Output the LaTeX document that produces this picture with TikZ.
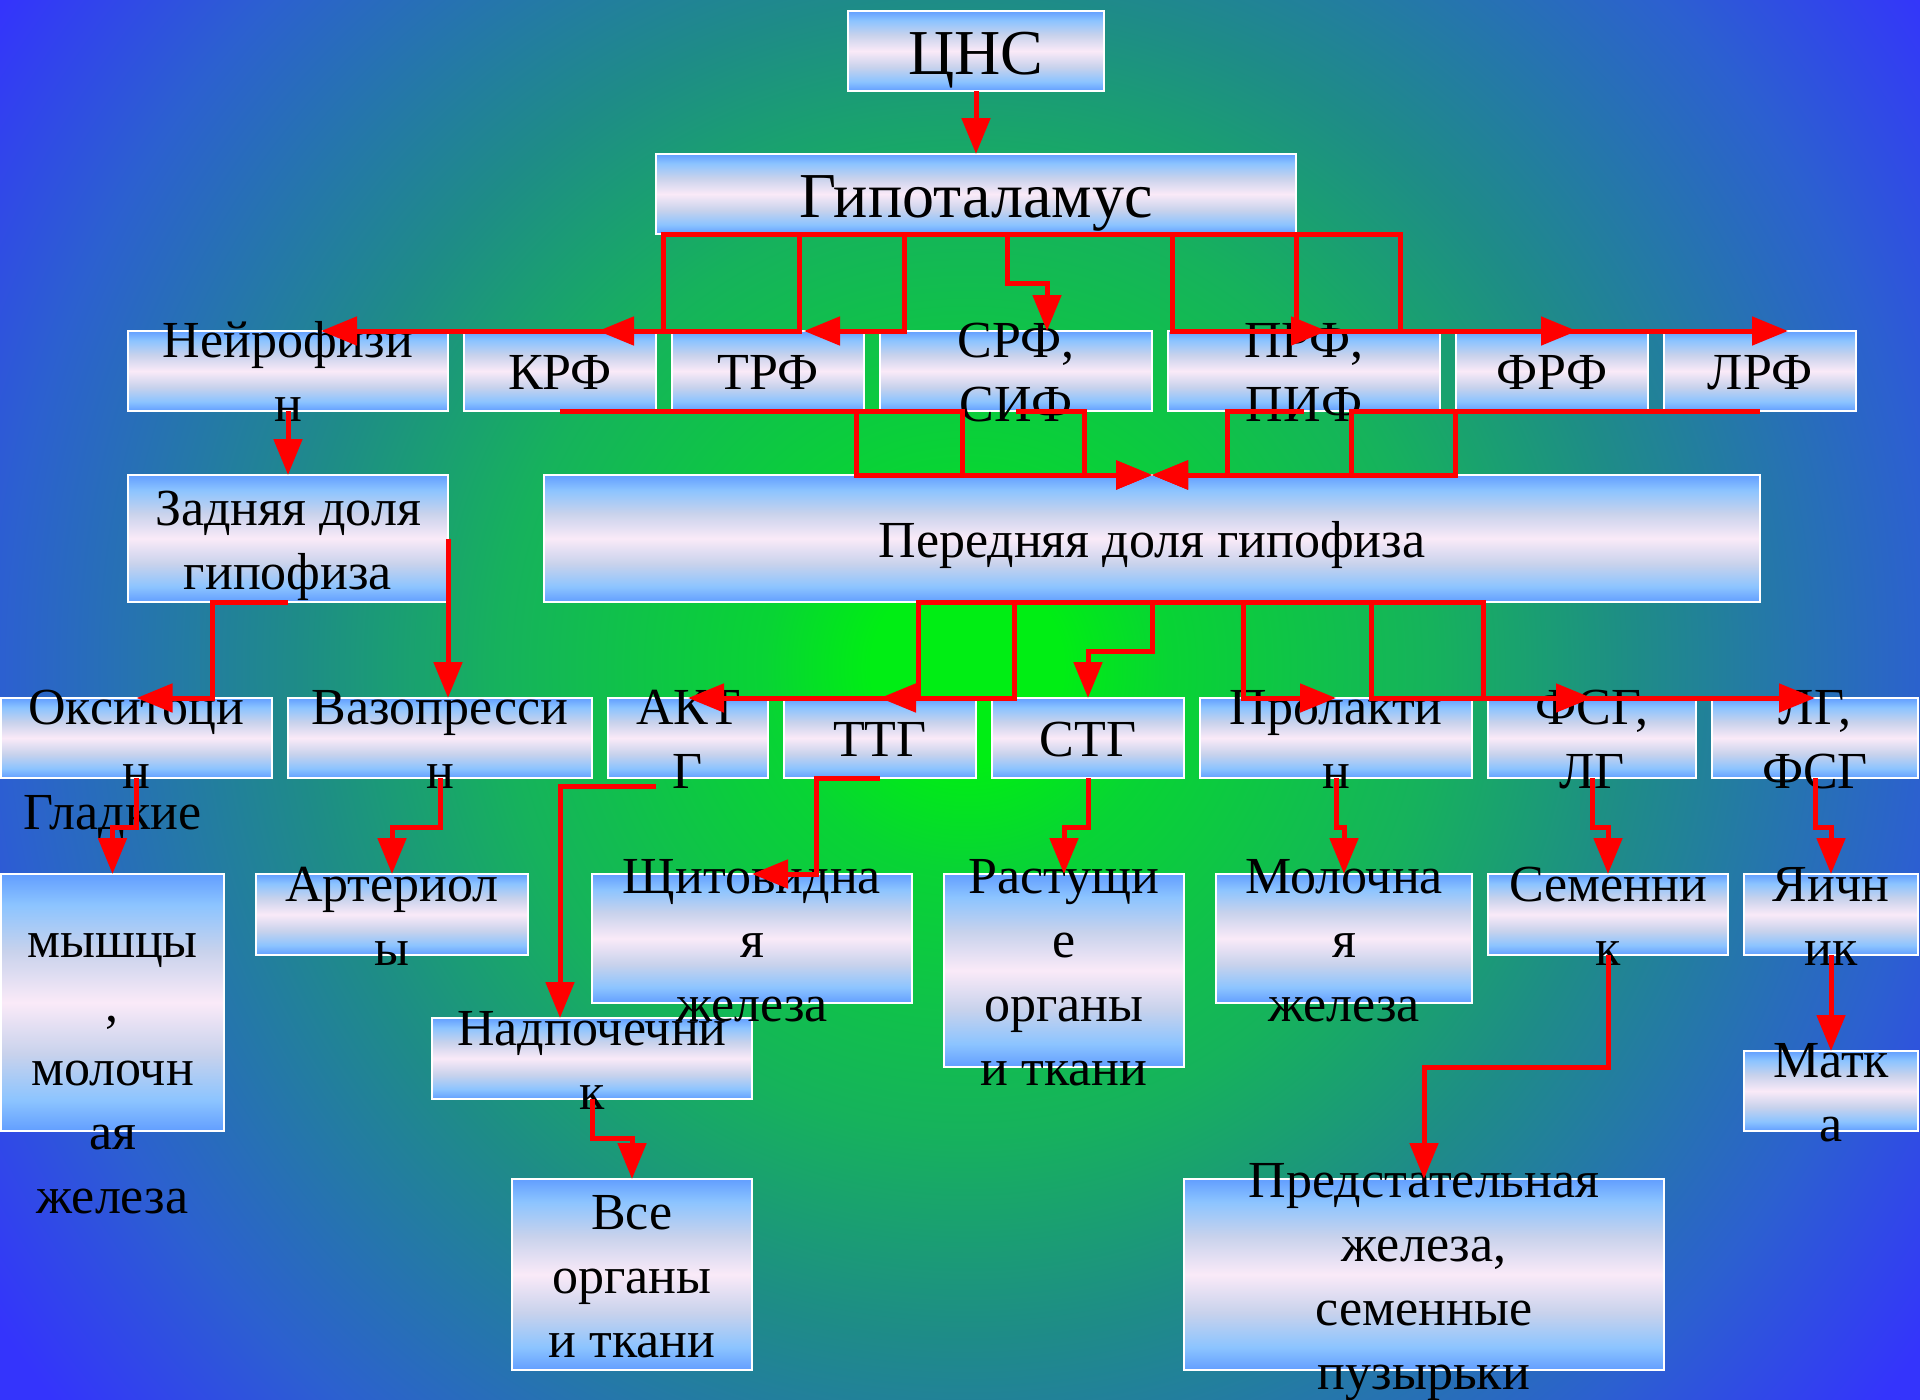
\documentclass[tikz,border=0pt]{standalone}
\usepackage{fontspec}
\setmainfont{Liberation Serif}
\usetikzlibrary{arrows.meta,fit,calc}
\definecolor{glowA}{RGB}{0,238,20}
\definecolor{glowB}{RGB}{8,212,52}
\definecolor{glowC}{RGB}{22,178,92}
\definecolor{glowD}{RGB}{30,140,135}
\definecolor{glowE}{RGB}{44,96,208}
\definecolor{glowF}{RGB}{52,52,252}
\definecolor{boxA}{RGB}{98,158,255}
\definecolor{boxB}{RGB}{140,196,255}
\definecolor{boxM}{RGB}{200,210,236}
\definecolor{boxC}{RGB}{250,234,248}
\definecolor{linkred}{RGB}{255,0,0}
\pgfdeclareradialshading{bgglow}{\pgfpoint{0bp}{0bp}}{color(0bp)=(glowA); color(2bp)=(glowA); color(4.2bp)=(glowB); color(9.7bp)=(glowC); color(13.9bp)=(glowD); color(20.1bp)=(glowE); color(24.4bp)=(glowF); color(50bp)=(glowF)}
\pgfdeclareverticalshading{boxgrad}{100bp}{color(0bp)=(boxA); color(25bp)=(boxA); color(31bp)=(boxB); color(40bp)=(boxM); color(50bp)=(boxC); color(60bp)=(boxM); color(69bp)=(boxB); color(75bp)=(boxA); color(100bp)=(boxA)}
\tikzset{link/.style={draw=linkred,line width=5pt,line join=miter,-{Triangle[length=36pt,width=28pt]}}}

\begin{document}
\begin{tikzpicture}[x=1pt,y=-1pt,
  box/.style={draw=white,line width=2pt,shade,shading=boxgrad,inner sep=0pt,outer sep=0pt},
  txt/.style={align=center,inner sep=0pt,yshift=-6pt,font=\fontsize{52}{64}\selectfont},
  big/.style={align=center,inner sep=0pt,yshift=-8pt,font=\fontsize{64}{77}\selectfont}]
\useasboundingbox (0,0) rectangle (1920,1400);
% background glow
\begin{scope}
\clip (0,0) rectangle (1920,1400);
\shade[shading=bgglow] (-233,-533) rectangle (2167,1867);
\end{scope}
% boxes
\node[box,fit={(848,11) (1104,91)}] (cns) {};
\node[box,fit={(656,154) (1296,234)}] (hyp) {};
\node[box,fit={(128,331) (448,411)}] (nf) {};
\node[box,fit={(464,331) (656,411)}] (krf) {};
\node[box,fit={(672,331) (864,411)}] (trf) {};
\node[box,fit={(880,331) (1152,411)}] (srf) {};
\node[box,fit={(1168,331) (1440,411)}] (prf) {};
\node[box,fit={(1456,331) (1648,411)}] (frf) {};
\node[box,fit={(1664,331) (1856,411)}] (lrf) {};
\node[box,fit={(128,475) (448,602)}] (zad) {};
\node[box,fit={(544,475) (1760,602)}] (ant) {};
\node[box,fit={(1,698) (272,778)}] (oks) {};
\node[box,fit={(288,698) (592,778)}] (vaz) {};
\node[box,fit={(608,698) (768,778)}] (acth) {};
\node[box,fit={(784,698) (976,778)}] (tsh) {};
\node[box,fit={(992,698) (1184,778)}] (stg) {};
\node[box,fit={(1200,698) (1472,778)}] (prl) {};
\node[box,fit={(1488,698) (1696,778)}] (fsh) {};
\node[box,fit={(1712,698) (1918,778)}] (lh) {};
\node[box,fit={(1,874) (224,1131)}] (glad) {};
\node[box,fit={(256,874) (528,955)}] (art) {};
\node[box,fit={(592,874) (912,1003)}] (thy) {};
\node[box,fit={(944,874) (1184,1067)}] (grow) {};
\node[box,fit={(1216,874) (1472,1003)}] (mam) {};
\node[box,fit={(1488,874) (1728,955)}] (test) {};
\node[box,fit={(1744,874) (1918,955)}] (ovar) {};
\node[box,fit={(432,1018) (752,1099)}] (nad) {};
\node[box,fit={(1744,1051) (1918,1131)}] (uter) {};
\node[box,fit={(512,1179) (752,1370)}] (all) {};
\node[box,fit={(1184,1179) (1664,1370)}] (pros) {};
% texts
\node[big] (cns-t) at (cns) {\strut ЦНС};
\node[big] (hyp-t) at (hyp) {\strut Гипоталамус};
\node[txt] (nf-t) at (nf) {\strut Нейрофизи\\н\strut};
\node[txt] (krf-t) at (krf) {\strut КРФ};
\node[txt] (trf-t) at (trf) {\strut ТРФ};
\node[txt] (srf-t) at (srf) {\strut СРФ,\\СИФ\strut};
\node[txt] (prf-t) at (prf) {\strut ПРФ,\\ПИФ\strut};
\node[txt] (frf-t) at (frf) {\strut ФРФ};
\node[txt] (lrf-t) at (lrf) {\strut ЛРФ};
\node[txt] (zad-t) at (zad) {\strut Задняя доля\\гипофиза\strut};
\node[txt] (ant-t) at (ant) {\strut Передняя доля гипофиза};
\node[txt] (oks-t) at (oks) {\strut Окситоци\\н\strut};
\node[txt] (vaz-t) at (vaz) {\strut Вазопресси\\н\strut};
\node[txt] (acth-t) at (acth) {\strut АКТ\\Г\strut};
\node[txt] (tsh-t) at (tsh) {\strut ТТГ};
\node[txt] (stg-t) at (stg) {\strut СТГ};
\node[txt] (prl-t) at (prl) {\strut Пролакти\\н\strut};
\node[txt] (fsh-t) at (fsh) {\strut ФСГ,\\ЛГ\strut};
\node[txt] (lh-t) at (lh) {\strut ЛГ,\\ФСГ\strut};
\node[txt] (glad-t) at (glad) {\strut Гладкие\\\strut\\мышцы\\,\\молочн\\ая\\железа\strut};
\node[txt] (art-t) at (art) {\strut Артериол\\ы\strut};
\node[txt] (thy-t) at (thy) {\strut Щитовидна\\я\\железа\strut};
\node[txt] (grow-t) at (grow) {\strut Растущи\\е\\органы\\и ткани\strut};
\node[txt] (mam-t) at (mam) {\strut Молочна\\я\\железа\strut};
\node[txt] (test-t) at (test) {\strut Семенни\\к\strut};
\node[txt] (ovar-t) at (ovar) {\strut Яичн\\ик\strut};
\node[txt] (nad-t) at (nad) {\strut Надпочечни\\к\strut};
\node[txt] (uter-t) at (uter) {\strut Матк\\а\strut};
\node[txt] (all-t) at (all) {\strut Все\\органы\\и ткани\strut};
\node[txt] (pros-t) at (pros) {\strut Предстательная\\железа,\\семенные\\пузырьки\strut};
% connectors
\draw[link] (cns.south) -- (hyp.north);
\foreach \bx/\tg/\dx in {663/nf/33,799/krf/38,904/trf/36,1172/prf/23,1296/frf/25,1400/lrf/28}
  \draw[link] (hyp.south) -| (\bx,0 |- \tg.north) -- ([xshift=\dx pt]\tg.north);
\draw[link] (hyp.south) -| (1007,283) -| ([xshift=31pt]srf.north);
\foreach \tg/\bx in {krf/962,trf/856,srf/1084,prf/1227,frf/1351,lrf/1455}
  \draw[link] (\tg.south) -| (\bx,0 |- ant.north) -- (ant.north);
\draw[link] (nf.south) -- (zad.north);
\draw[link] (zad.south) -| (212,0 |- oks.north) -- (oks.north);
\draw[link] (zad.east) -- (zad.east |- vaz.north);
\foreach \tg/\bx in {acth/1014,tsh/918,prl/1243,fsh/1371,lh/1483}
  \draw[link] (ant.south) -| (\bx,0 |- \tg.north) -- (\tg.north);
\draw[link] (ant.south) |- (stg.north |- 0,651) -- (stg.north);
\foreach \src/\tg in {oks/glad,vaz/art,stg/grow,prl/mam,fsh/test,lh/ovar}
  \draw[link] (\src.south) -- ++(0,49) -| (\tg.north);
\draw[link] ([xshift=-32pt,yshift=-8pt]acth.south) -| ([xshift=-32pt]nad.north);
\draw[link] (tsh.south) -| (816,0 |- thy.north) -- (thy.north);
\draw[link] (nad.south) -- ++(0,39) -| (all.north);
\draw[link] (test.south) |- ([yshift=112pt]pros.north) -- (pros.north);
\draw[link] (ovar.south) -- (uter.north);
\end{tikzpicture}
\end{document}
